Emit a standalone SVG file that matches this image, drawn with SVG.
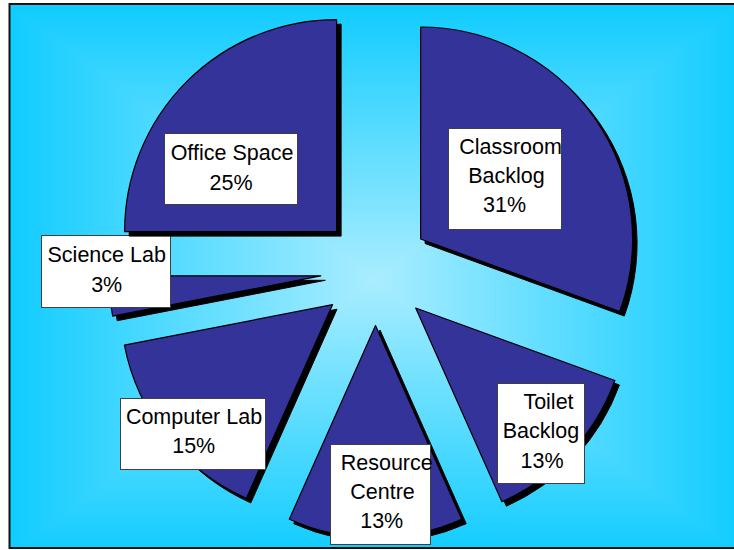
<svg xmlns="http://www.w3.org/2000/svg" width="734" height="550" viewBox="0 0 734 550">
<defs>
<linearGradient id="gh" gradientUnits="userSpaceOnUse" x1="9" y1="0" x2="741" y2="0">
<stop offset="0" stop-color="#10CCFF"/>
<stop offset="0.5" stop-color="#AAEDFF"/>
<stop offset="1" stop-color="#10CCFF"/>
</linearGradient>
<linearGradient id="gv" gradientUnits="userSpaceOnUse" x1="0" y1="4" x2="0" y2="556">
<stop offset="0" stop-color="#10CCFF"/>
<stop offset="0.5" stop-color="#AAEDFF"/>
<stop offset="1" stop-color="#10CCFF"/>
</linearGradient>
<style>
.slice{fill:#333399;stroke:#000;stroke-width:1.2;stroke-linejoin:round}
.shadow{fill:#000;stroke:#000;stroke-width:1}
.box{fill:#fff;stroke:#404040;stroke-width:1}
.lbl{font-family:"Liberation Sans",Arial,sans-serif;font-size:21.5px;fill:#000;text-anchor:middle}
</style>
</defs>
<rect x="0" y="0" width="734" height="550" fill="#fff"/>
<g id="background" style="isolation:isolate">
<rect x="9" y="4" width="732" height="544" fill="url(#gh)"/>
<rect x="9" y="4" width="732" height="544" fill="url(#gv)" style="mix-blend-mode:darken"/>
<rect x="9.5" y="4" width="740" height="544" fill="none" stroke="#111" stroke-width="2"/>
</g>
<g id="connectors"></g>
<g id="classroom">
<path class="shadow" transform="translate(4.5,4.5)" d="M420.6,239 L420.6,27 A212,212 0 0 1 619.8,311.5 Z"/>
<path class="slice" d="M420.6,239 L420.6,27 A212,212 0 0 1 619.8,311.5 Z"/>
<rect class="box" x="448.5" y="128.5" width="113" height="101"/>
<text class="lbl" x="510.5" y="154.3">Classroom</text>
<text class="lbl" x="506.5" y="183">Backlog</text>
<text class="lbl" x="504.5" y="212">31%</text>
</g>
<g id="toilet">
<path class="shadow" transform="translate(4.5,4.5)" d="M415.7,308 L614.9,380.5 A212,212 0 0 1 501.9,501.7 Z"/>
<path class="slice" d="M415.7,308 L614.9,380.5 A212,212 0 0 1 501.9,501.7 Z"/>
<rect class="box" x="497.5" y="383.5" width="87" height="100"/>
<text class="lbl" x="548.5" y="409.3">Toilet</text>
<text class="lbl" x="541" y="438">Backlog</text>
<text class="lbl" x="542" y="467.7">13%</text>
</g>
<g id="resource">
<path class="shadow" transform="translate(4.5,4.5)" d="M375.5,325.5 L461.7,519.2 A212,212 0 0 1 289.3,519.2 Z"/>
<path class="slice" d="M375.5,325.5 L461.7,519.2 A212,212 0 0 1 289.3,519.2 Z"/>
<rect class="box" x="330.5" y="444.5" width="100" height="100"/>
<text class="lbl" x="386.7" y="470">Resource</text>
<text class="lbl" x="382.5" y="499">Centre</text>
<text class="lbl" x="381.7" y="528.3">13%</text>
</g>
<g id="computer">
<path class="shadow" transform="translate(4.5,4.5)" d="M332.5,304.7 L246.3,498.4 A212,212 0 0 1 124.4,345.1 Z"/>
<path class="slice" d="M332.5,304.7 L246.3,498.4 A212,212 0 0 1 124.4,345.1 Z"/>
<rect class="box" x="120.5" y="398.5" width="145" height="71"/>
<text class="lbl" x="194" y="424.3">Computer Lab</text>
<text class="lbl" x="193.7" y="453.3">15%</text>
</g>
<g id="science">
<path class="shadow" transform="translate(4.5,4.5)" d="M320.8,275.8 L112.7,316.2 A212,212 0 0 1 108.8,275.8 Z"/>
<path class="slice" d="M320.8,275.8 L112.7,316.2 A212,212 0 0 1 108.8,275.8 Z"/>
<rect class="box" x="41.5" y="235.5" width="129" height="72"/>
<text class="lbl" x="106.7" y="261.7">Science Lab</text>
<text class="lbl" x="106.7" y="291.7">3%</text>
</g>
<g id="office">
<path class="shadow" transform="translate(4.5,4.5)" d="M336.6,231.6 L124.6,231.6 A212,212 0 0 1 336.6,19.6 Z"/>
<path class="slice" d="M336.6,231.6 L124.6,231.6 A212,212 0 0 1 336.6,19.6 Z"/>
<rect class="box" x="164.5" y="133.5" width="133" height="71"/>
<text class="lbl" x="232" y="160">Office Space</text>
<text class="lbl" x="231" y="190">25%</text>
</g>
</svg>
